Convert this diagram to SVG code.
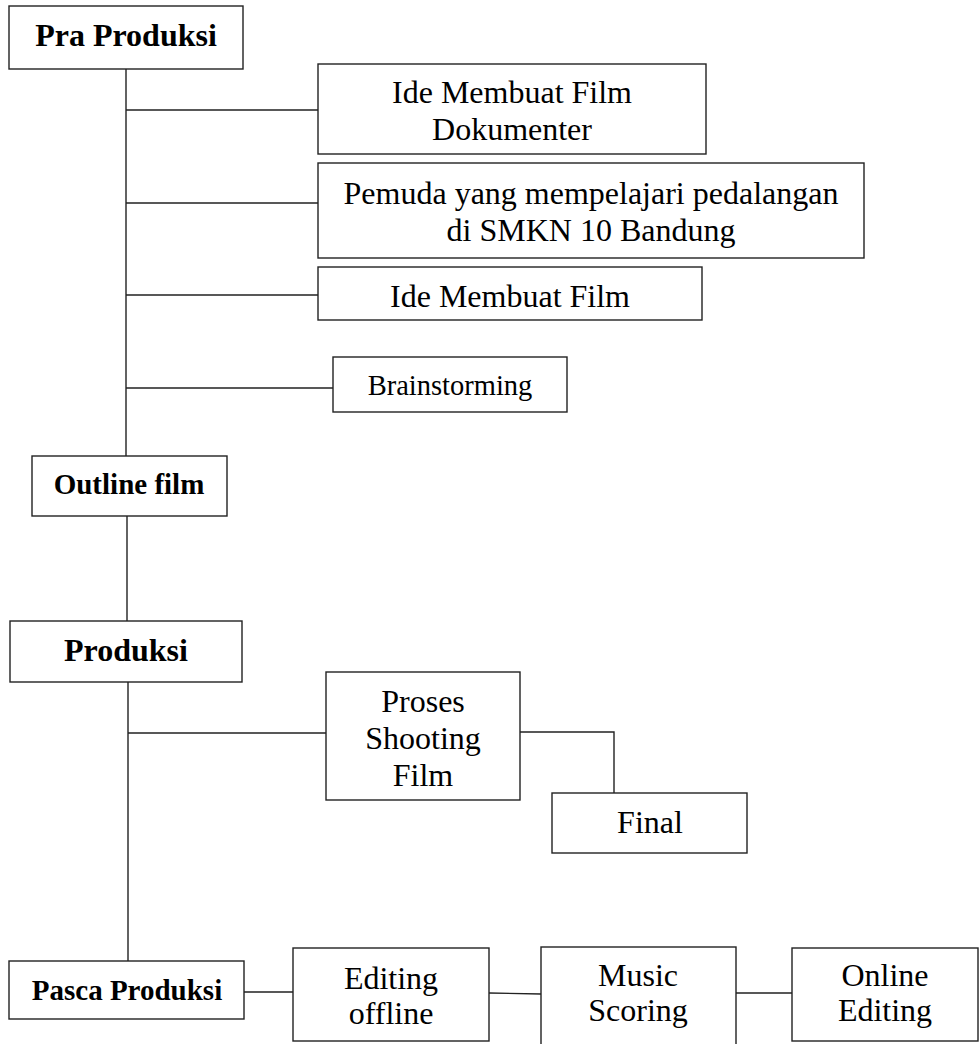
<svg xmlns="http://www.w3.org/2000/svg" width="979" height="1044" viewBox="0 0 979 1044">
<style>
.box{fill:#fff;stroke:#222;stroke-width:1.4}
.ln{fill:none;stroke:#222;stroke-width:1.4}
text{font-family:"Liberation Serif","Times New Roman",serif;fill:#000;text-anchor:middle}
.b{font-weight:bold}
.r32{font-size:32px}
</style>
<rect width="979" height="1044" fill="#fff"/>
<g id="connectors">
<path class="ln" d="M126 69V456M126 110H318M126 203H318M126 295H318M126 388H333"/>
<path class="ln" d="M127 516V621"/>
<path class="ln" d="M128 682V961M128 733H326M520 732H614V793"/>
<path class="ln" d="M244 992H293M489 993L541 994M736 993H792"/>
</g>
<g id="pra"><rect class="box" x="9" y="6" width="234" height="63"/><text class="b" x="126" y="46" font-size="32">Pra Produksi</text></g>
<g id="ide-dok"><rect class="box" x="318" y="64" width="388" height="90"/><text class="r32" x="512" y="103">Ide Membuat Film</text><text class="r32" x="512" y="140">Dokumenter</text></g>
<g id="pemuda"><rect class="box" x="318" y="163" width="546" height="95"/><text class="r32" x="591" y="204">Pemuda yang mempelajari pedalangan</text><text class="r32" x="591" y="241">di SMKN 10 Bandung</text></g>
<g id="ide"><rect class="box" x="318" y="267" width="384" height="53"/><text class="r32" x="510" y="307">Ide Membuat Film</text></g>
<g id="brainstorming"><rect class="box" x="333" y="357" width="234" height="55"/><text x="450" y="395" font-size="28.5">Brainstorming</text></g>
<g id="outline"><rect class="box" x="32" y="456" width="195" height="60"/><text class="b" x="129" y="494" font-size="29">Outline film</text></g>
<g id="produksi"><rect class="box" x="10" y="621" width="232" height="61"/><text class="b" x="126" y="661" font-size="32">Produksi</text></g>
<g id="proses"><rect class="box" x="326" y="672" width="194" height="128"/><text class="r32" x="423" y="712">Proses</text><text class="r32" x="423" y="749">Shooting</text><text class="r32" x="423" y="786">Film</text></g>
<g id="final"><rect class="box" x="552" y="793" width="195" height="60"/><text class="r32" x="650" y="833">Final</text></g>
<g id="pasca"><rect class="box" x="9" y="961" width="235" height="58"/><text class="b" x="127" y="1000" font-size="29">Pasca Produksi</text></g>
<g id="editing"><rect class="box" x="293" y="948" width="196" height="93"/><text class="r32" x="391" y="989">Editing</text><text class="r32" x="391" y="1024">offline</text></g>
<g id="music"><rect class="box" x="541" y="947" width="195" height="110"/><text class="r32" x="638" y="986">Music</text><text class="r32" x="638" y="1021">Scoring</text></g>
<g id="online"><rect class="box" x="792" y="948" width="186" height="93"/><text class="r32" x="885" y="986">Online</text><text class="r32" x="885" y="1021">Editing</text></g>
</svg>
